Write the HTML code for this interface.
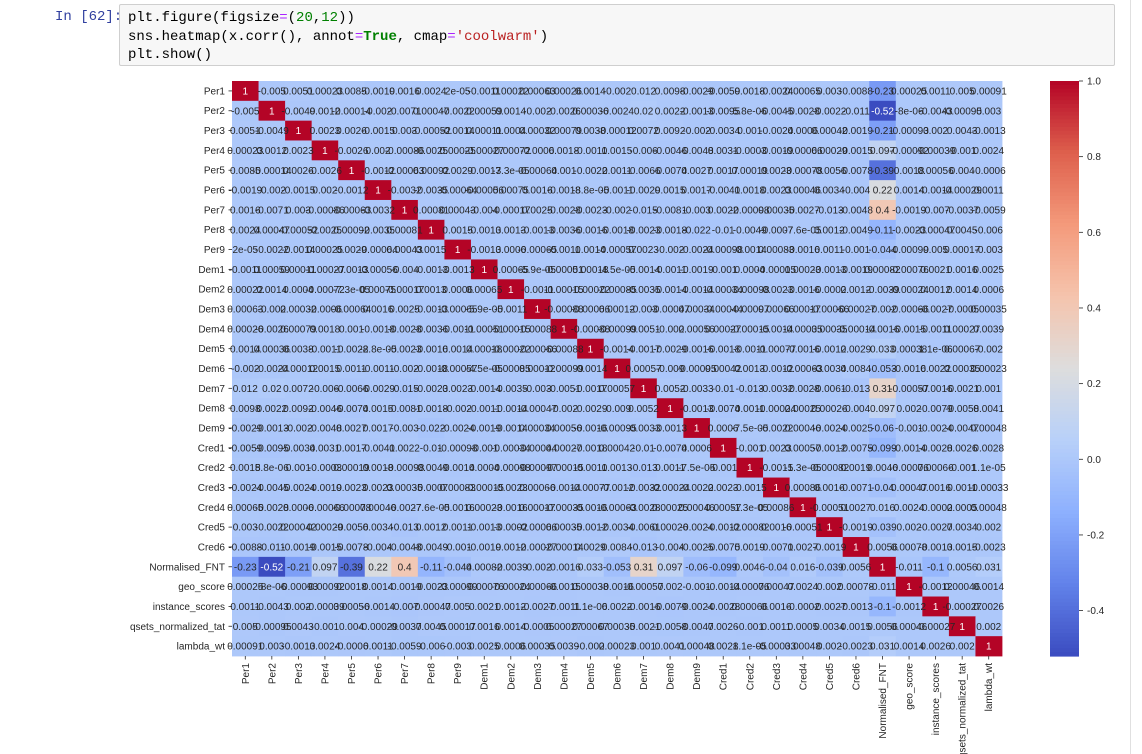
<!DOCTYPE html>
<html><head><meta charset="utf-8">
<style>
body{margin:0;background:#fff;width:1142px;height:754px;overflow:hidden;position:relative;font-family:"Liberation Sans",sans-serif}
#prompt{position:absolute;left:55px;top:9px;font:14px "Liberation Mono",monospace;color:#303f9f}
#code{position:absolute;left:119px;top:4px;width:996px;height:62px;background:#f7f7f7;border:1px solid #cfcfcf;border-radius:2px;font:14px/18.5px "Liberation Mono",monospace;color:#000;padding:4px 0 0 8px;box-sizing:border-box;white-space:pre}
.g{color:#008000}.o{color:#aa22ff}.s{color:#ba2121}
#edge{position:absolute;left:1130px;top:0;width:1px;height:754px;background:#e0e0e0}
svg{position:absolute;left:0;top:0}
</style></head><body>
<div id="prompt">In [62]:</div>
<div id="code">plt.figure(figsize<span class="o">=</span>(<span class="g">20</span>,<span class="g">12</span>))
sns.heatmap(x.corr(), annot<span class="o">=</span><span class="g"><b>True</b></span>, cmap<span class="o">=</span><span class="s">'coolwarm'</span>)
plt.show()</div>
<div id="edge"></div>
<svg id="chart" width="1142" height="754"></svg>
<script>
const labels=["Per1","Per2","Per3","Per4","Per5","Per6","Per7","Per8","Per9","Dem1","Dem2","Dem3","Dem4","Dem5","Dem6","Dem7","Dem8","Dem9","Cred1","Cred2","Cred3","Cred4","Cred5","Cred6","Normalised_FNT","geo_score","instance_scores","qsets_normalized_tat","lambda_wt"];
const upper0=[-0.005,0.0051,0.00023,0.0085,-0.0019,0.0016,0.0024,2e-05,-0.0011,0.00022,0.00063,0.00026,0.0014,-0.002,0.012,0.0098,-0.0029,-0.0059,0.0018,-0.0024,0.00065,0.003,-0.0088,-0.23,0.00025,0.0011,0.005,0.00091];
const upper1=[-0.0049,0.0012,-0.00014,-0.002,-0.0071,0.00047,-0.0022,0.00059,0.0014,-0.002,-0.0026,0.00036,-0.0024,0.02,0.0022,-0.0013,-0.0095,5.8e-06,-0.0045,-0.0028,-0.0022,-0.011,-0.52,-8e-06,-0.0043,-0.00095,0.003];
const upper2=[0.0023,0.0026,-0.0015,0.003,-0.00052,-0.0014,0.00011,0.0004,0.00032,0.00079,0.0038,-0.00012,0.0072,0.0092,-0.002,-0.0034,0.001,-0.0024,0.0006,0.00042,-0.0019,-0.21,-0.00093,0.002,0.0043,-0.0013];
const upper3=[-0.0026,0.002,-0.00086,-0.0025,0.00025,-0.00027,-0.00072,-0.0006,0.0018,-0.0011,0.0015,-0.006,-0.0046,-0.0048,0.0031,-0.0003,-0.0019,-0.00066,0.00029,-0.0015,0.097,-0.00092,-0.00039,-0.001,0.0024];
const upper4=[-0.0012,-0.00063,0.00092,0.0029,-0.0013,-7.3e-05,-0.00064,0.001,-0.0022,0.0011,-0.0066,-0.0074,0.0027,0.0017,0.00019,0.0023,-0.00078,-0.0056,-0.0078,-0.39,0.0018,0.00056,0.004,-0.0006];
const upper5=[-0.0032,-0.0035,-0.00064,-0.00056,0.00075,0.0016,-0.0018,-8.8e-05,-0.0011,-0.0029,0.0015,0.0017,-0.0041,0.0018,0.0023,0.00046,0.0034,-0.004,0.22,0.0014,-0.0014,-0.00029,0.0011];
const upper6=[0.00081,0.00043,-0.004,-0.00017,0.0025,-0.0028,-0.0023,-0.002,-0.015,-0.0081,-0.003,0.0022,-0.00098,0.00035,-0.0027,-0.013,-0.0048,0.4,-0.0019,-0.007,-0.0037,-0.0059];
const upper7=[0.0015,-0.0013,0.0013,-0.0013,-0.0036,-0.0016,-0.0018,-0.0023,-0.0018,-0.022,-0.01,-0.0049,-0.0007,-7.6e-05,0.0012,-0.0049,-0.11,-0.0023,-0.00047,0.0045,-0.006];
const upper8=[-0.0013,0.0006,-0.00065,-0.0011,0.0014,-0.00057,0.0023,-0.002,-0.0024,-0.00098,-0.0014,0.00083,-0.0016,0.0011,-0.001,-0.044,-0.00099,0.005,0.00017,-0.003];
const upper9=[0.00065,-5.9e-05,-0.00051,0.00018,-4.5e-05,-0.0014,-0.0011,-0.0019,-0.001,0.0004,-0.00015,0.00023,-0.0013,-0.0019,0.00082,-0.00076,0.0021,0.0016,0.0025];
const upper10=[-0.0011,-0.00015,-0.00022,-0.00085,-0.0035,-0.0014,-0.0014,-0.00034,-0.00098,-0.0023,-0.0016,-0.0002,0.0012,-0.0039,-0.00024,0.0012,0.0014,0.0006];
const upper11=[-0.00088,-0.00066,0.00012,-0.003,-0.00047,0.00034,-0.00044,-0.00097,0.00066,0.00017,-0.00066,-0.00027,-0.002,-0.00066,-0.0027,-0.0005,0.00035];
const upper12=[-0.00088,-0.00099,-0.0051,-0.002,0.00056,0.00027,-0.00015,-0.0014,-0.00035,0.00035,-0.00014,-0.0016,-0.0015,-0.0011,0.00027,0.0039];
const upper13=[-0.0014,-0.0017,-0.0029,-0.0016,-0.0018,-0.0011,-0.00077,-0.0016,-0.0012,0.0029,0.033,0.00038,1.1e-06,0.00067,-0.002];
const upper14=[0.00057,-0.009,-0.00095,0.00042,0.0013,-0.0012,-0.00063,-0.0034,0.0084,-0.053,-0.0016,0.0022,0.00035,0.00023];
const upper15=[0.0052,-0.0033,-0.01,-0.013,-0.0032,-0.0028,-0.0061,-0.013,0.31,-0.00057,-0.0016,-0.0021,0.001];
const upper16=[-0.0013,-0.0074,0.0011,-0.00024,0.00025,0.00026,-0.004,0.097,0.002,-0.0079,-0.0058,0.0041];
const upper17=[0.0006,-7.5e-05,-0.0022,0.00046,-0.0024,-0.0025,-0.06,-0.001,-0.0024,-0.0047,0.00048];
const upper18=[-0.001,0.0023,0.00057,-0.0012,-0.0075,-0.099,-0.0014,-0.0028,0.0026,0.0028];
const upper19=[-0.0015,-1.3e-05,-0.00082,0.0019,0.0046,-0.00076,0.00066,-0.001,1.1e-05];
const upper20=[0.00086,0.0016,-0.0071,-0.04,0.00047,0.0016,0.0011,-0.00033];
const upper21=[-0.00051,0.0027,0.016,0.0024,-0.0002,0.0005,0.00048];
const upper22=[-0.0019,-0.039,0.002,-0.0027,0.0034,0.002];
const upper23=[0.0056,0.00078,-0.0013,0.0015,-0.0023];
const upper24=[-0.011,-0.1,0.0056,0.031];
const upper25=[-0.0012,0.00046,0.0014];
const upper26=[-0.00027,0.0026];
const upper27=[0.002];
const cbTicks=[1.0,0.8,0.6,0.4,0.2,0.0,-0.2,-0.4];
const VMIN=-0.52,VMAX=1.0;

const uppers=[upper0,upper1,upper2,upper3,upper4,upper5,upper6,upper7,upper8,upper9,upper10,upper11,upper12,upper13,upper14,upper15,upper16,upper17,upper18,upper19,upper20,upper21,upper22,upper23,upper24,upper25,upper26,upper27];
const N=labels.length;
const M=[];for(let i=0;i<N;i++){M.push(new Array(N).fill(0));M[i][i]=1;}
uppers.forEach((r,i)=>r.forEach((v,k)=>{const j=i+1+k;M[i][j]=v;M[j][i]=v;}));

const X0=232,X1=1002,Y0=81,Y1=656;
const cw=(X1-X0)/N,ch=(Y1-Y0)/N;
const xs=j=>X0+j*cw, ys=i=>Y0+i*ch;
const stops=[[0,59,76,192],[0.125,98,130,234],[0.25,141,176,254],[0.375,184,208,249],[0.5,221,221,221],[0.625,245,196,173],[0.75,244,154,123],[0.875,222,96,77],[1,180,4,38]];
function cmap(v){let t=(v-VMIN)/(VMAX-VMIN);t=Math.max(0,Math.min(1,t));
 for(let k=1;k<stops.length;k++){if(t<=stops[k][0]){const a=stops[k-1],b=stops[k],f=(t-a[0])/(b[0]-a[0]);
 return [1,2,3].map(c=>Math.round(a[c]+(b[c]-a[c])*f));}}return [180,4,38];}
function fmt(v){if(v===0)return "0";const e=Math.floor(Math.log10(Math.abs(v)));
 if(e<-4||e>=2){let s=v.toExponential(1);let [m,ex]=s.split('e');m=m.replace(/\.?0+$/,'');let n=parseInt(ex);return m+'e'+(n<0?'-':'+')+String(Math.abs(n)).padStart(2,'0');}
 let s=v.toPrecision(2);if(s.indexOf('.')>=0)s=s.replace(/0+$/,'').replace(/\.$/,'');return s;}
const NS="http://www.w3.org/2000/svg";
const svg=document.getElementById('chart');
function el(t,a,p){const e=document.createElementNS(NS,t);for(const k in a)e.setAttribute(k,a[k]);(p||svg).appendChild(e);return e;}
const gc=el('g',{});


const gt=el('g',{'font-family':'Liberation Sans, sans-serif','font-size':'10','text-anchor':'middle'});


for(let i=0;i<N;i++)for(let j=0;j<N;j++){
 const c=cmap(M[i][j]);
 const r=el('rect',{x:xs(j),y:ys(i),width:cw+0.4,height:ch+0.4,fill:`rgb(${c[0]},${c[1]},${c[2]})`},gc);
 
 
 const lum=(0.2126*c[0]+0.7152*c[1]+0.0722*c[2])/255;
 const t=el('text',{x:xs(j)+cw/2,y:ys(i)+ch/2+3.6,fill:lum<0.408?'#fff':'#262626'},gt);
 t.textContent=fmt(M[i][j]);
 
 
}
const gy=el('g',{'font-family':'Liberation Sans, sans-serif','font-size':'10',fill:'#262626','text-anchor':'end'});


const gx=el('g',{'font-family':'Liberation Sans, sans-serif','font-size':'10',fill:'#262626','text-anchor':'end'});


labels.forEach((l,i)=>{
 const y=ys(i)+ch/2;
 el('line',{x1:X0-3.5,x2:X0,y1:y,y2:y,stroke:'#262626','stroke-width':0.8},gy);
 const t=el('text',{x:X0-7,y:y+3.5},gy);t.textContent=l;
 
 
 const x=xs(i)+cw/2;
 el('line',{x1:x,x2:x,y1:Y1,y2:Y1+3.5,stroke:'#262626','stroke-width':0.8},gx);
 const u=el('text',{x:0,y:0,transform:`translate(${x+3.5},${Y1+7}) rotate(-90)`},gx);u.textContent=l;
 
 
});
// colorbar
const CX=1050,CW=29;
const gb=el('g',{});


const steps=150;
for(let k=0;k<steps;k++){const v=VMAX-(VMAX-VMIN)*(k+0.5)/steps;const c=cmap(v);
 el('rect',{x:CX,y:Y0+(Y1-Y0)*k/steps,width:CW,height:(Y1-Y0)/steps+0.6,fill:`rgb(${c[0]},${c[1]},${c[2]})`},gb);}
const cy=v=>Y0+(VMAX-v)/(VMAX-VMIN)*(Y1-Y0);
cbTicks.forEach(v=>{const y=cy(v);
 el('line',{x1:CX+CW,x2:CX+CW+4,y1:y,y2:y,stroke:'#262626','stroke-width':0.8},gb);
 const t=el('text',{x:CX+CW+8,y:y+3.5,'font-family':'Liberation Sans, sans-serif','font-size':'10',fill:'#262626'},gb);
 t.textContent=v.toFixed(1);
 
 
});
</script>
</body></html>
